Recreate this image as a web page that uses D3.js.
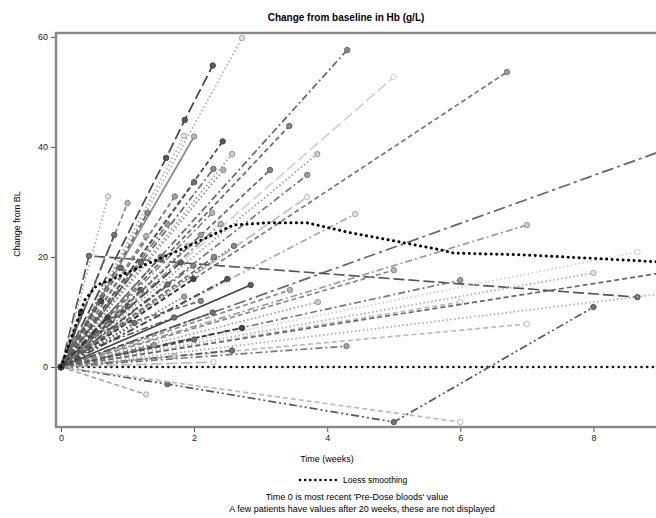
<!DOCTYPE html>
<html>
<head>
<meta charset="utf-8">
<script src="https://cdn.jsdelivr.net/npm/d3@7"></script>
<style>
  body { margin: 0; background: #fff; }
  svg { font-family: "Liberation Sans", Arial, sans-serif; }
  .tick text { font-size: 9px; fill: #222; }
  .tick line { stroke: #555; }
</style>
</head>
<body>
<svg id="chart" width="656" height="518"></svg>
<script>
// visits after baseline for each patient: [week, change from BL]
const patients = [
  [[2.72, 59.8]],
  [[1.58, 38], [1.86, 44.9], [2.28, 54.8]],
  [[4.3, 57.6]],
  [[6.7, 53.6]],
  [[5.0, 52.7]],
  [[3.43, 43.8]],
  [[10.0, 43.5]],
  [[7.0, 25.8]],
  [[0.42, 20.2], [8.66, 12.7]],
  [[1.6, -3.1], [5.0, -10], [8.0, 10.9]],
  [[1.28, -5]],
  [[6.0, -10]],
  [[7.0, 7.8]],
  [[8.0, 17.1]],
  [[8.66, 20.9]],
  [[6.0, 15.8]],
  [[2.0, 41.9]],
  [[1.85, 42]],
  [[2.43, 41]],
  [[2.57, 38.7]],
  [[2.29, 36]],
  [[2.44, 35.8]],
  [[2.0, 33.6]],
  [[0.71, 31]],
  [[1.0, 29.8]],
  [[1.71, 31]],
  [[2.27, 28]],
  [[3.14, 35.8]],
  [[3.85, 38.7]],
  [[3.7, 34.9]],
  [[3.7, 30.9]],
  [[4.42, 27.8]],
  [[5.0, 17.6]],
  [[3.44, 14]],
  [[3.86, 11.8]],
  [[2.85, 14.9]],
  [[2.28, 9.9]],
  [[2.72, 7.1]],
  [[2.57, 3.0]],
  [[2.29, 0.9]],
  [[4.29, 3.8]],
  [[1.99, 16]],
  [[1.99, 18.4]],
  [[1.85, 12.8]],
  [[1.28, 23.8]],
  [[6.0, 11.8]],
  [[9.5, 18]],
  [[9.5, 14]],
  [[0.6, 12]],
  [[0.9, 18]],
  [[1.2, 14]],
  [[1.5, 20]],
  [[1.1, 8]],
  [[1.4, 4]],
  [[0.8, 24]],
  [[1.6, 26]],
  [[0.5, 6]],
  [[0.3, 10]],
  [[1.9, 22]],
  [[1.3, 28]],
  [[0.15, 2], [1.7, 9]],
  [[0.2, 5], [2.1, 12]],
  [[1.0, 11]],
  [[1.6, 15]],
  [[2.1, 24]],
  [[1.8, 19]],
  [[2.3, 20]],
  [[2.4, 26]],
  [[2.0, 5]],
  [[1.7, 2]],
  [[2.5, 16]],
  [[2.6, 22]],
  [[1.2, 19]],
  [[0.7, 9]]
];

const loessWeeks  = [0, 0.14, 0.36, 0.54, 0.74, 1.19, 1.79, 2.35, 2.59, 3.1, 3.7, 4.35, 5.1, 5.7, 5.9, 6.9, 7.9, 9.0];
const loessValues = [0, 4.9, 12.2, 14.9, 15.8, 18.2, 21.3, 24.4, 25.8, 26.2, 26.2, 24.4, 22.7, 21.3, 20.7, 20.4, 19.8, 19.1];

const xTicks = [0, 2, 4, 6, 8];
const yTicks = [0, 20, 40, 60];

// line styles: grey shade + dash pattern per patient
const dashes = {
  solid: null, dash: "5,3", dot: "1.5,2.5", dashdot: "7,3,2,3",
  longdash: "11,4", dashdotdot: "8,3,2,3,2,3", longdashdot: "12,4,3,4"
};
const styles = [
  ["#aaa", "dot"], ["#444", "longdash"], ["#666", "dashdot"], ["#777", "dash"],
  ["#d0d0d0", "longdash"], ["#666", "dash"], ["#666", "longdashdot"], ["#999", "dashdot"],
  ["#555", "longdash"], ["#555", "dashdotdot"], ["#aaa", "dash"], ["#bbb", "dash"],
  ["#bbb", "dash"], ["#aaa", "dot"], ["#ccc", "dot"], ["#777", "dashdot"],
  ["#888", "solid"], ["#aaa", "dot"], ["#444", "dash"], ["#999", "dot"],
  ["#666", "dashdot"], ["#888", "dot"], ["#555", "dash"], ["#aaa", "dot"],
  ["#888", "dash"], ["#777", "dash"], ["#888", "dashdot"], ["#666", "dash"],
  ["#999", "dot"], ["#777", "dashdot"], ["#bbb", "longdash"], ["#aaa", "dashdot"],
  ["#888", "dash"], ["#888", "dash"], ["#999", "dot"], ["#444", "solid"],
  ["#555", "dashdot"], ["#333", "dash"], ["#555", "dashdot"], ["#bbb", "longdash"],
  ["#777", "dashdot"], ["#333", "dash"], ["#666", "dashdotdot"], ["#777", "dot"],
  ["#888", "dash"], ["#bbb", "dash"], ["#666", "dash"], ["#aaa", "dot"],
  ["#333", "dot"], ["#555", "dash"], ["#444", "dashdot"], ["#666", "dash"],
  ["#555", "dot"], ["#777", "dash"], ["#555", "longdash"], ["#777", "dashdot"],
  ["#444", "solid"], ["#333", "dash"], ["#999", "dot"], ["#666", "dash"],
  ["#555", "dashdot"], ["#666", "dash"], ["#444", "dash"], ["#555", "dashdot"],
  ["#777", "dot"], ["#444", "longdash"], ["#666", "dash"], ["#888", "dashdot"],
  ["#555", "dash"], ["#999", "dot"], ["#444", "dashdot"], ["#666", "dot"],
  ["#555", "dash"], ["#333", "dashdot"]
];

const svg = d3.select("#chart");
const x = d3.scaleLinear().domain([-0.075, 9.0]).range([56, 660]);
const y = d3.scaleLinear().domain([-10.9, 60.7]).range([427, 33]);

svg.append("clipPath").attr("id", "plot")
  .append("rect").attr("x", 56).attr("y", 33).attr("width", 604).attr("height", 394);

const plot = svg.append("g").attr("clip-path", "url(#plot)");
const line = d3.line().x(d => x(d[0])).y(d => y(d[1]));

// baseline reference
plot.append("path")
  .attr("d", line([[-0.1, 0], [9.2, 0]]))
  .attr("fill", "none").attr("stroke", "#111").attr("stroke-width", 2.6)
  .attr("stroke-linecap", "round").attr("stroke-dasharray", "0.1,5.6");

patients.forEach((visits, i) => {
  const pts = [[0, 0]].concat(visits);
  const [col, dash] = styles[i % styles.length];
  plot.append("path")
    .attr("d", line(pts))
    .attr("fill", "none")
    .attr("stroke", col)
    .attr("stroke-width", 1.7)
    .attr("stroke-dasharray", dashes[dash]);
  plot.selectAll(null)
    .data(pts)
    .join("circle")
    .attr("cx", d => x(d[0]))
    .attr("cy", d => y(d[1]))
    .attr("r", 2.7)
    .attr("fill", d3.color(col).brighter(0.8))
    .attr("stroke", col)
    .attr("stroke-width", 1);
});

// loess smoothing
plot.append("path")
  .attr("d", line(loessWeeks.map((w, i) => [w, loessValues[i]])))
  .attr("fill", "none").attr("stroke", "#000").attr("stroke-width", 3)
  .attr("stroke-linecap", "round").attr("stroke-dasharray", "0.1,5.4");

// frame
svg.append("rect")
  .attr("x", 56).attr("y", 33).attr("width", 610).attr("height", 394)
  .attr("fill", "none").attr("stroke", "#888").attr("stroke-width", 2.4);

svg.append("g")
  .attr("transform", "translate(55,0)")
  .call(d3.axisLeft(y).tickValues(yTicks).tickSize(4).tickPadding(3))
  .call(g => g.select(".domain").remove());

svg.append("g")
  .attr("transform", "translate(0,428)")
  .call(d3.axisBottom(x).tickValues(xTicks).tickSize(4).tickPadding(3))
  .call(g => g.select(".domain").remove());

svg.append("text")
  .attr("x", 346).attr("y", 21)
  .attr("text-anchor", "middle")
  .attr("font-size", "10px").attr("font-weight", "bold")
  .text("Change from baseline in Hb (g/L)");

svg.append("text")
  .attr("transform", "translate(20,224) rotate(-90)")
  .attr("text-anchor", "middle")
  .attr("font-size", "9px")
  .text("Change from BL");

svg.append("text")
  .attr("x", 327).attr("y", 462)
  .attr("text-anchor", "middle")
  .attr("font-size", "9px")
  .text("Time (weeks)");

// legend
svg.append("line")
  .attr("x1", 300).attr("x2", 336).attr("y1", 480).attr("y2", 480)
  .attr("stroke", "#000").attr("stroke-width", 2.6)
  .attr("stroke-linecap", "round").attr("stroke-dasharray", "0.1,5");
svg.append("text")
  .attr("x", 343).attr("y", 483)
  .attr("font-size", "8.5px")
  .text("Loess smoothing");

svg.append("text")
  .attr("x", 357).attr("y", 500)
  .attr("text-anchor", "middle")
  .attr("font-size", "9px")
  .text("Time 0 is most recent 'Pre-Dose bloods' value");
svg.append("text")
  .attr("x", 362).attr("y", 512)
  .attr("text-anchor", "middle")
  .attr("font-size", "9px")
  .text("A few patients have values after 20 weeks, these are not displayed");
</script>
</body>
</html>
